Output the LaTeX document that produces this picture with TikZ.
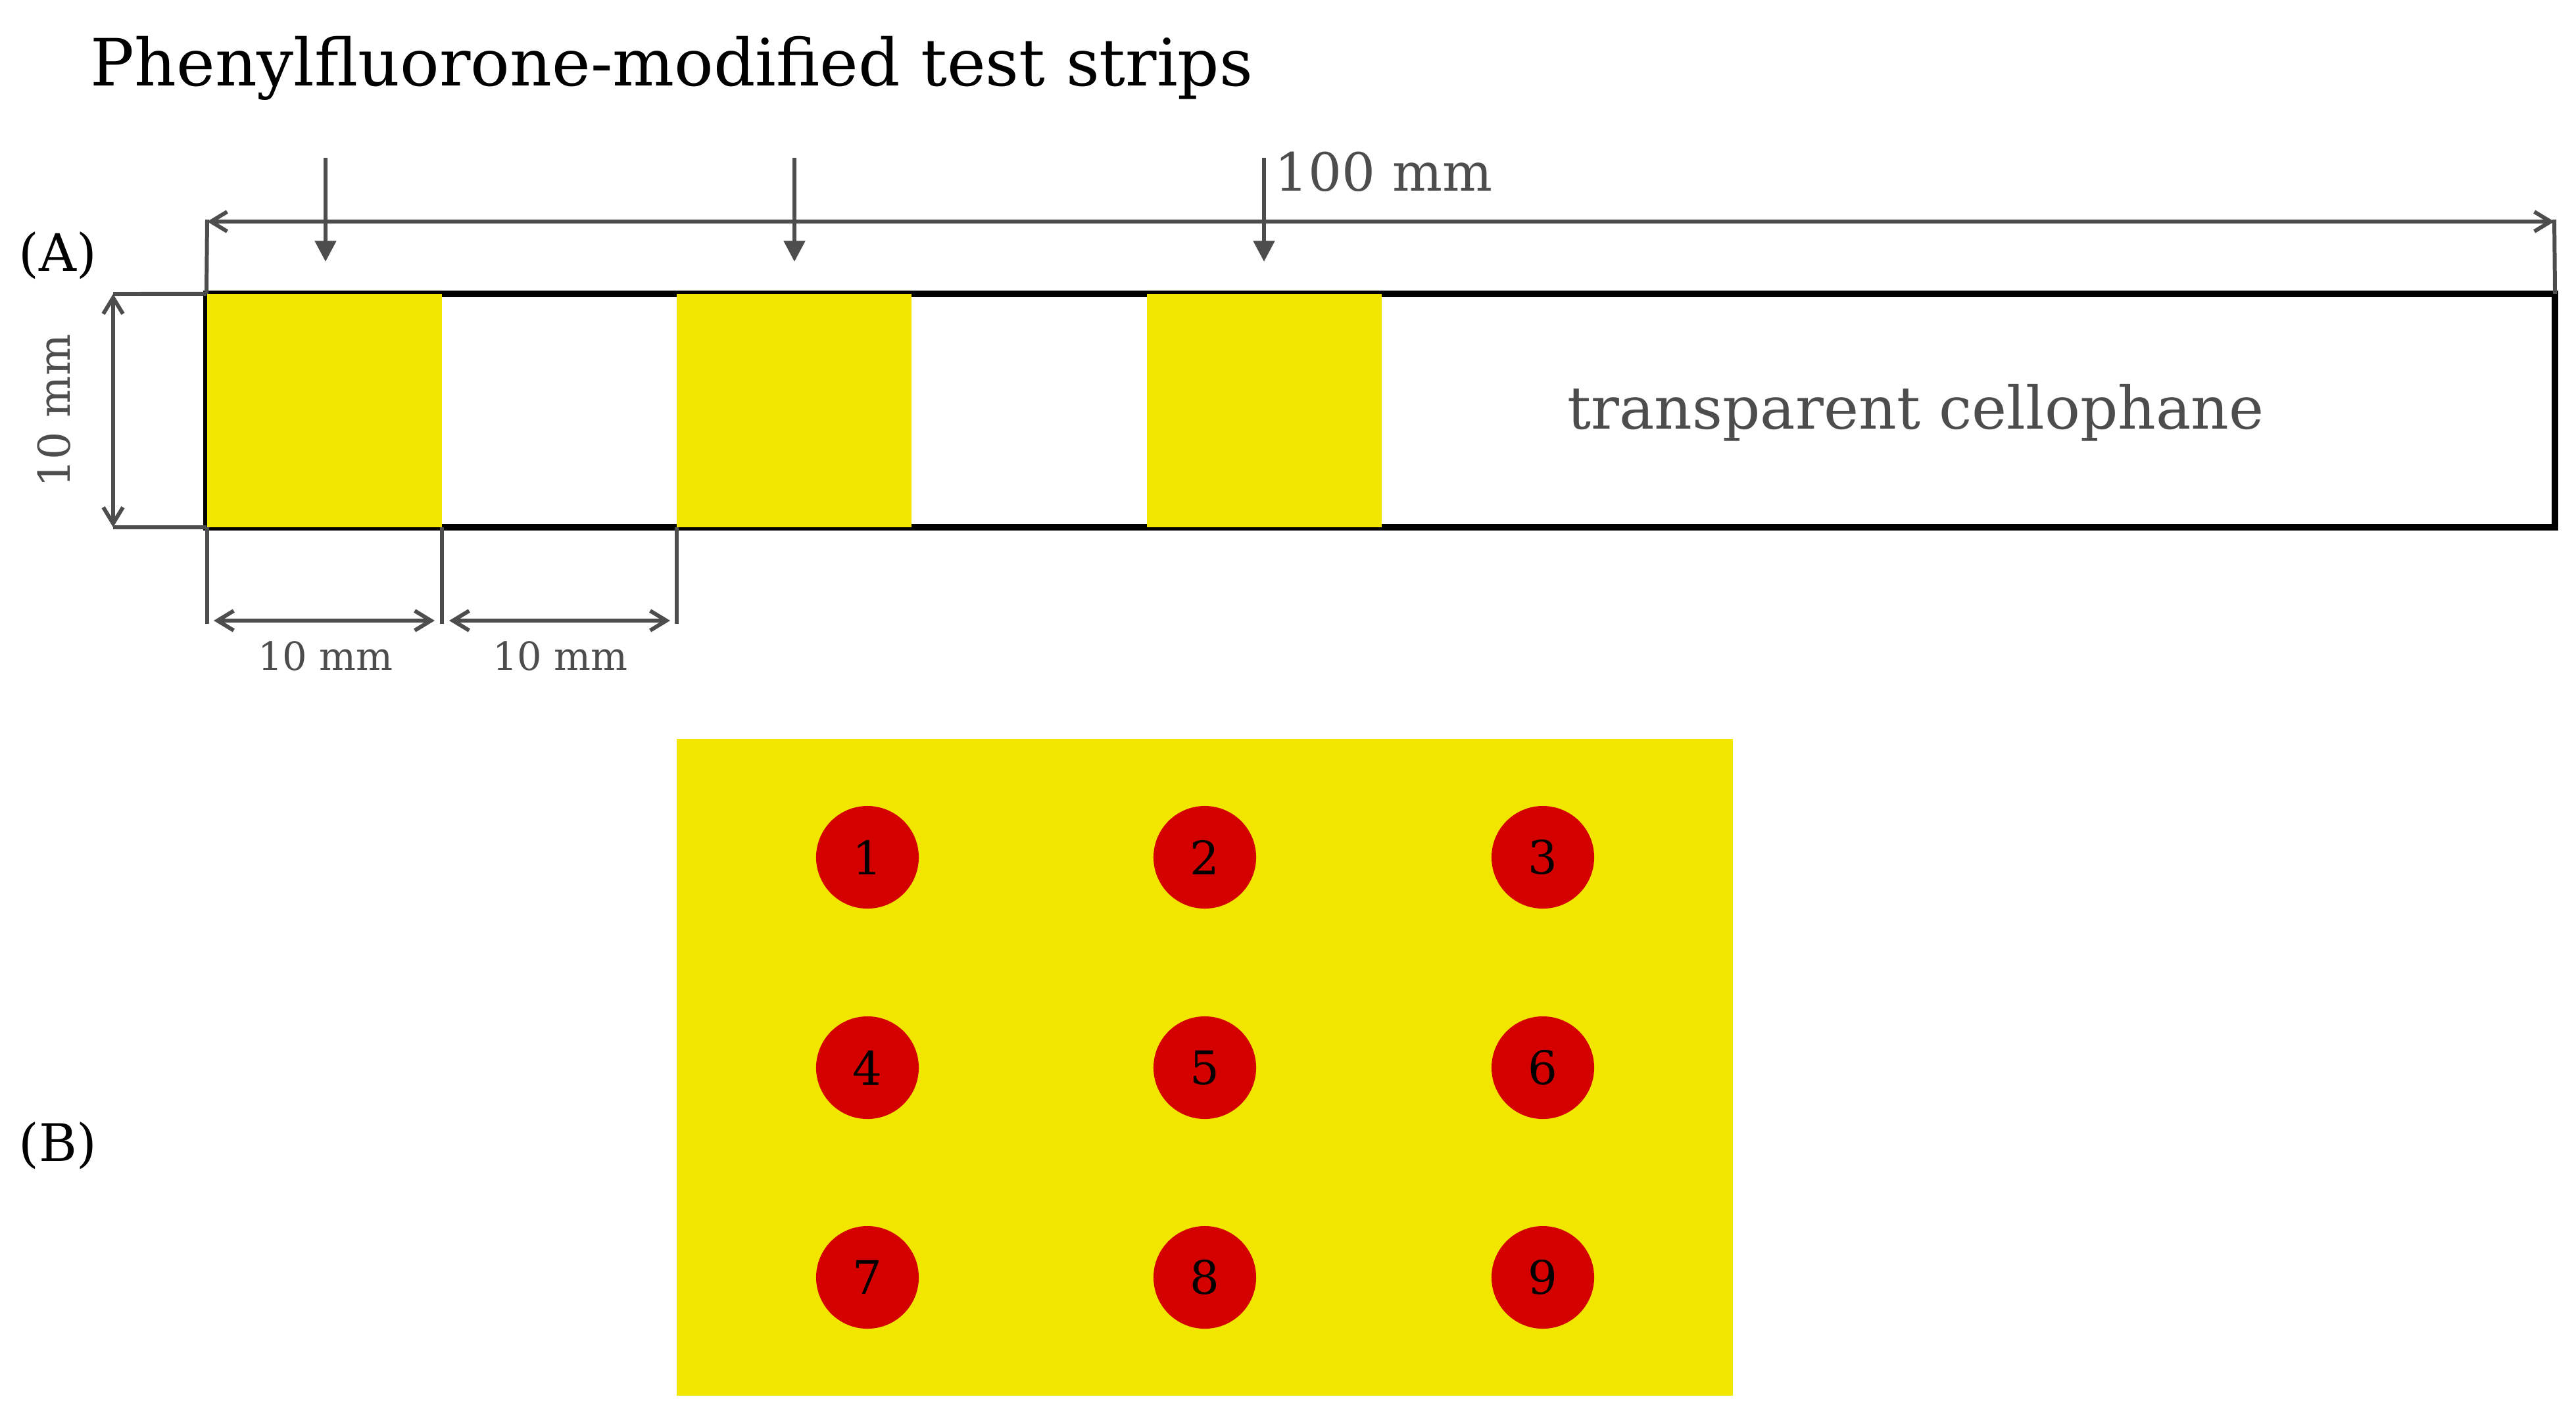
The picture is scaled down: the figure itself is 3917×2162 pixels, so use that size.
\documentclass[tikz,border=0pt]{standalone}
\usepackage{fontspec}
\setmainfont{DejaVu Serif}
\usetikzlibrary{arrows.meta}
\definecolor{stripyellow}{HTML}{F2E600}
\definecolor{spotred}{HTML}{D40000}
\definecolor{dimgray}{HTML}{4D4D4D}
\begin{document}
\begin{tikzpicture}[x=0.01cm,y=-0.01cm,
  dimline/.style={draw=dimgray, line width=1.7pt},
  dimarrow/.style={dimline, {Straight Barb[length=7pt,width=8.5pt,line width=1.7pt]}-{Straight Barb[length=7pt,width=8.5pt,line width=1.7pt]}},
  downarrow/.style={dimline, -{Triangle[length=9pt,width=9pt]}},
  pad/.style={fill=stripyellow, inner sep=0pt, outer sep=0pt, minimum width=3.57cm, minimum height=3.55cm},
  spot/.style={circle, fill=spotred, inner sep=0pt, minimum size=1.56cm, font=\fontsize{20}{24}\selectfont, text=black},
  graytext/.style={text=dimgray, inner sep=0pt},
]
\useasboundingbox (0,0) rectangle (3917,2162);

% title
\node[anchor=base west, inner sep=0pt, font=\fontsize{28.2}{33}\selectfont] (title) at (137,130) {Phenylfluorone-modified test strips};

% panel labels
\node[anchor=base, inner sep=0pt, font=\fontsize{22.4}{26}\selectfont] (labA) at (88,412) {(A)};
\node[anchor=base, inner sep=0pt, font=\fontsize{22.4}{26}\selectfont] (labB) at (88,1766) {(B)};

% strip
\node[draw=black, line width=3pt, inner sep=0pt, outer sep=0pt, minimum width=35.69cm, minimum height=3.55cm] (strip) at (2099.5,624.5) {};
\node[pad] (p1) at (493.5,624.5) {};
\node[pad] (p2) at (1207.5,624.5) {};
\node[pad] (p3) at (1922.5,624.5) {};
\node[graytext, anchor=base, font=\fontsize{25.5}{30}\selectfont] (cello) at (2913,652) {transparent cellophane};

% top dimension (100 mm)
\coordinate (tl) at (315,337);
\coordinate (tr) at (3884,337);
\draw[dimline] (strip.north west) -- ([yshift=0.03cm]tl);
\draw[dimline] (strip.north east) -- ([yshift=0.03cm]tr);
\draw[dimarrow] (tl) -- (tr);
\node[graytext, anchor=base west, font=\fontsize{22.8}{27}\selectfont] (hundred) at (1938,290) {100 mm};

% down arrows
\coordinate (a1) at (495,240);
\coordinate (a2) at (1208,240);
\coordinate (a3) at (1922,240);
\coordinate (b1) at (495,398);
\coordinate (b2) at (1208,398);
\coordinate (b3) at (1922,398);
\draw[downarrow] (a1) -- (b1);
\draw[downarrow] (a2) -- (b2);
\draw[downarrow] (a3) -- (b3);

% left dimension (10 mm height)
\coordinate (lt) at (172,447);
\coordinate (lb) at (172,802);
\draw[dimline] (strip.north west) -- (lt);
\draw[dimline] (strip.south west) -- (lb);
\draw[dimarrow] (lt) -- (lb);
\node[graytext, rotate=90, font=\fontsize{19}{23}\selectfont] (hlab) at (82,625) {10 mm};

% bottom dimensions
\coordinate (e1t) at (315,802);
\coordinate (e2t) at (672,802);
\coordinate (e3t) at (1029,802);
\coordinate (e1b) at (315,949);
\coordinate (e2b) at (672,949);
\coordinate (e3b) at (1029,949);
\draw[dimline] (e1t) -- (e1b);
\draw[dimline] (e2t) -- (e2b);
\draw[dimline] (e3t) -- (e3b);
\coordinate (d1) at (325,944);
\coordinate (d2) at (661,944);
\coordinate (d3) at (683,944);
\coordinate (d4) at (1019,944);
\draw[dimarrow] (d1) -- (d2);
\draw[dimarrow] (d3) -- (d4);
\node[graytext, anchor=base, font=\fontsize{16.8}{20}\selectfont] (w1) at (495,1019) {10 mm};
\node[graytext, anchor=base, font=\fontsize{16.8}{20}\selectfont] (w2) at (852,1019) {10 mm};

% panel B
\node[fill=stripyellow, inner sep=0pt, outer sep=0pt, minimum width=16.06cm, minimum height=9.99cm] (plate) at (1832,1623.5) {};
\node[spot] (s1) at (1319,1304) {1};
\node[spot] (s2) at (1832,1304) {2};
\node[spot] (s3) at (2346,1304) {3};
\node[spot] (s4) at (1319,1624) {4};
\node[spot] (s5) at (1832,1624) {5};
\node[spot] (s6) at (2346,1624) {6};
\node[spot] (s7) at (1319,1943) {7};
\node[spot] (s8) at (1832,1943) {8};
\node[spot] (s9) at (2346,1943) {9};
\end{tikzpicture}
\end{document}
